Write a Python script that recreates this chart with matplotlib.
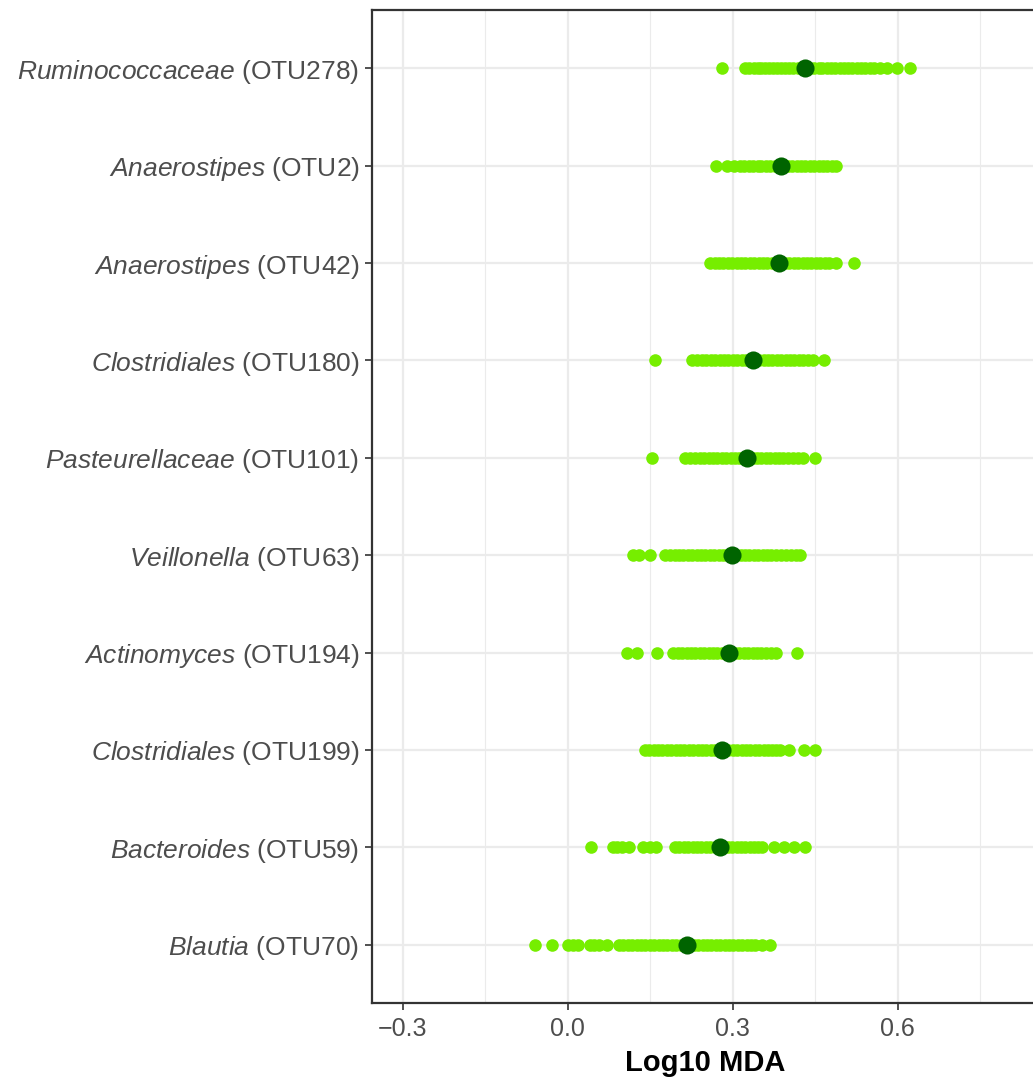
import matplotlib
matplotlib.use("Agg")
import matplotlib.pyplot as plt

plt.rcParams["font.family"] = "Liberation Sans"
plt.rcParams["mathtext.fontset"] = "custom"
plt.rcParams["mathtext.it"] = "Liberation Sans:italic"
plt.rcParams["mathtext.rm"] = "Liberation Sans"

# bottom to top
genus = ["Blautia", "Bacteroides", "Clostridiales", "Actinomyces", "Veillonella",
         "Pasteurellaceae", "Clostridiales", "Anaerostipes", "Anaerostipes", "Ruminococcaceae"]
otu = ["OTU70", "OTU59", "OTU199", "OTU194", "OTU63",
       "OTU101", "OTU180", "OTU42", "OTU2", "OTU278"]

otu70 = [-0.059, -0.028, 0.000, 0.010, 0.019, 0.040, 0.048, 0.056, 0.071, 0.093, 0.101,
         0.109, 0.117, 0.125, 0.133, 0.141, 0.149, 0.157, 0.165, 0.173, 0.181, 0.189,
         0.197, 0.205, 0.213, 0.221, 0.229, 0.237, 0.245, 0.253, 0.261, 0.269, 0.277,
         0.285, 0.293, 0.301, 0.309, 0.317, 0.325, 0.333, 0.341, 0.353, 0.368]
otu59 = [0.043, 0.082, 0.090, 0.099, 0.111, 0.136, 0.149, 0.161, 0.195, 0.203, 0.211,
         0.219, 0.227, 0.235, 0.243, 0.251, 0.259, 0.267, 0.275, 0.283, 0.291, 0.299,
         0.307, 0.315, 0.323, 0.331, 0.339, 0.346, 0.353, 0.374, 0.393, 0.411, 0.431]
otu199 = [0.140, 0.148, 0.156, 0.164, 0.172, 0.180, 0.188, 0.196, 0.204, 0.212, 0.220,
          0.228, 0.236, 0.244, 0.252, 0.260, 0.268, 0.276, 0.284, 0.292, 0.300, 0.308,
          0.316, 0.324, 0.332, 0.340, 0.348, 0.356, 0.364, 0.372, 0.379, 0.385, 0.402,
          0.429, 0.450]
otu194 = [0.108, 0.125, 0.162, 0.192, 0.200, 0.208, 0.216, 0.224, 0.232, 0.240, 0.248,
          0.256, 0.264, 0.272, 0.280, 0.288, 0.296, 0.304, 0.312, 0.320, 0.328, 0.336,
          0.344, 0.352, 0.360, 0.369, 0.379, 0.417]
otu63 = [0.118, 0.130, 0.149, 0.176, 0.185, 0.194, 0.202, 0.210, 0.218, 0.226, 0.234,
         0.242, 0.250, 0.258, 0.266, 0.274, 0.282, 0.290, 0.298, 0.306, 0.314, 0.322,
         0.330, 0.338, 0.346, 0.354, 0.362, 0.370, 0.379, 0.388, 0.397, 0.406, 0.414, 0.422]
otu101 = [0.153, 0.213, 0.222, 0.231, 0.240, 0.248, 0.256, 0.264, 0.272, 0.280, 0.288,
          0.296, 0.304, 0.312, 0.320, 0.328, 0.336, 0.344, 0.352, 0.360, 0.368, 0.376,
          0.384, 0.392, 0.400, 0.410, 0.419, 0.428, 0.450]
otu180 = [0.158, 0.225, 0.235, 0.244, 0.252, 0.260, 0.268, 0.276, 0.284, 0.292, 0.300,
          0.308, 0.316, 0.324, 0.332, 0.340, 0.348, 0.356, 0.364, 0.372, 0.380, 0.388,
          0.396, 0.404, 0.412, 0.420, 0.428, 0.437, 0.446, 0.465]
otu42 = [0.259, 0.267, 0.275, 0.283, 0.291, 0.299, 0.307, 0.315, 0.323, 0.331, 0.339,
         0.347, 0.355, 0.363, 0.371, 0.379, 0.387, 0.395, 0.403, 0.411, 0.419, 0.427,
         0.435, 0.443, 0.451, 0.459, 0.467, 0.475, 0.487, 0.520]
otu2 = [0.269, 0.290, 0.303, 0.313, 0.321, 0.329, 0.337, 0.345, 0.352, 0.360, 0.368,
        0.376, 0.384, 0.392, 0.400, 0.408, 0.416, 0.424, 0.432, 0.440, 0.448, 0.456,
        0.464, 0.472, 0.480, 0.488]
otu278 = [0.280, 0.322, 0.330, 0.338, 0.345, 0.351, 0.358, 0.366, 0.373, 0.380, 0.388,
          0.395, 0.403, 0.410, 0.418, 0.426, 0.433, 0.441, 0.448, 0.456, 0.463, 0.471,
          0.479, 0.486, 0.494, 0.502, 0.509, 0.517, 0.525, 0.533, 0.541, 0.549, 0.556,
          0.568, 0.581, 0.599, 0.622]

runs = [otu70, otu59, otu199, otu194, otu63, otu101, otu180, otu42, otu2, otu278]
means = [0.217, 0.277, 0.280, 0.293, 0.299, 0.325, 0.337, 0.384, 0.387, 0.432]

W, H = 1033, 1078
fig = plt.figure(figsize=(W / 100, H / 100), dpi=100)
x0, x1 = -0.356, 0.855
px_per_unit = 550
ax = fig.add_axes([372 / W, 1 - 1003 / H, (x1 - x0) * px_per_unit / W, (1003 - 10) / H])

for i, vals in enumerate(runs):
    ax.scatter(vals, [i + 1] * len(vals), s=82, color="#76EE00", linewidths=0, zorder=3)
ax.scatter(means, range(1, len(means) + 1), s=170, color="#006400", linewidths=0, zorder=4)

ax.set_xlim(x0, x1)
ax.set_ylim(0.4, 10.6)
ax.set_xticks([-0.3, 0.0, 0.3, 0.6])
ax.set_xticklabels(["\u22120.3", "0.0", "0.3", "0.6"])
ax.set_xticks([-0.15, 0.15, 0.45, 0.75], minor=True)
ax.set_yticks(range(1, len(genus) + 1))
ax.set_yticklabels([r"$\mathit{%s}$ (%s)" % (g, o) for g, o in zip(genus, otu)])

ax.set_axisbelow(True)
ax.grid(which="major", color="#EBEBEB", linewidth=1.6)
ax.grid(which="minor", axis="x", color="#EBEBEB", linewidth=0.8)
ax.tick_params(which="major", length=5, width=1.2, color="#333333",
               labelcolor="#4D4D4D", pad=4)
ax.tick_params(axis="y", labelsize=19)
ax.tick_params(axis="x", labelsize=18, pad=5)
ax.tick_params(which="minor", length=0)
for sp in ax.spines.values():
    sp.set_color("#333333")
    sp.set_linewidth(1.6)

ax.set_xlabel("Log10 MDA", fontsize=21, fontweight="bold", labelpad=6)

fig.savefig("out.png", dpi=100)
